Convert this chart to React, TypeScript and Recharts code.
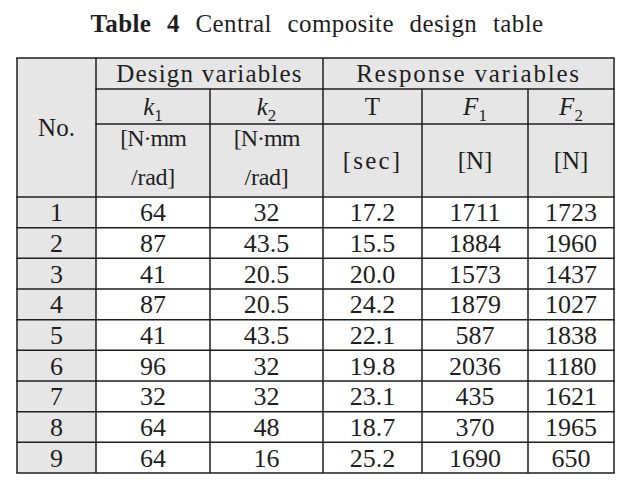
import { ScatterChart, Scatter, XAxis, YAxis, ReferenceArea, ReferenceLine } from 'recharts'

// table contents
const rowNumbers = ['1', '2', '3', '4', '5', '6', '7', '8', '9']
const k1Values = [64, 87, 41, 87, 41, 96, 32, 64, 64]
const k2Values = [32, 43.5, 20.5, 20.5, 43.5, 32, 32, 48, 16]
const tValues = [17.2, 15.5, 20.0, 24.2, 22.1, 19.8, 23.1, 18.7, 25.2]
const f1Values = [1711, 1884, 1573, 1879, 587, 2036, 435, 370, 1690]
const f2Values = [1723, 1960, 1437, 1027, 1838, 1180, 1621, 1965, 650]

const groupLabels = ['Design variables', 'Response variables']
const symbolLabels = [
    { base: 'k', sub: '1', italic: true },
    { base: 'k', sub: '2', italic: true },
    { base: 'T', sub: '', italic: false },
    { base: 'F', sub: '1', italic: true },
    { base: 'F', sub: '2', italic: true },
]
const unitLabels = [['[N·mm', '/rad]'], ['[N·mm', '/rad]'], ['[sec]'], ['[N]'], ['[N]']]

// layout (table units on the hidden axes)
const W = 634
const H = 490
const colEdges = [17, 96, 210, 323, 422, 528, 614]
const headEdges = [58, 89, 124, 197]
const bodyBottom = 473
const rowH = (bodyBottom - headEdges[3]) / rowNumbers.length

const FONT = '"Liberation Serif", "Times New Roman", serif'
const INK = '#1e1e1e'

const mid = (a: number, b: number) => (a + b) / 2

type Cell = { x: number; y: number; kind: string; text?: string; sub?: string; italic?: boolean; size?: number; ls?: number }

const cells: Cell[] = []
cells.push({ x: mid(colEdges[0], colEdges[1]), y: mid(headEdges[0], headEdges[3]), kind: 'plain', text: 'No.', size: 25 })
cells.push({ x: mid(colEdges[1], colEdges[3]), y: mid(headEdges[0], headEdges[1]), kind: 'plain', text: groupLabels[0], size: 25, ls: 1.2 })
cells.push({ x: mid(colEdges[3], colEdges[6]), y: mid(headEdges[0], headEdges[1]), kind: 'plain', text: groupLabels[1], size: 25, ls: 1.8 })
symbolLabels.forEach((s, i) => {
    cells.push({ x: mid(colEdges[i + 1], colEdges[i + 2]), y: mid(headEdges[1], headEdges[2]), kind: 'sym', text: s.base, sub: s.sub, italic: s.italic, size: 25 })
})
unitLabels.forEach((u, i) => {
    const cx = mid(colEdges[i + 1], colEdges[i + 2])
    if (u.length === 2) {
        cells.push({ x: cx, y: headEdges[2] + 14, kind: 'plain', text: u[0], size: 24, ls: -1 })
        cells.push({ x: cx, y: headEdges[3] - 20, kind: 'plain', text: u[1], size: 24, ls: -0.3 })
    } else {
        cells.push({ x: cx, y: mid(headEdges[2], headEdges[3]), kind: 'plain', text: u[0], size: 25, ls: u[0] === '[sec]' ? 2.2 : 0 })
    }
})
const columns = [
    rowNumbers,
    k1Values.map(v => String(v)),
    k2Values.map(v => String(v)),
    tValues.map(v => v.toFixed(1)),
    f1Values.map(v => String(v)),
    f2Values.map(v => String(v)),
]
columns.forEach((col, c) => {
    col.forEach((txt, r) => {
        cells.push({ x: mid(colEdges[c], colEdges[c + 1]), y: headEdges[3] + rowH * (r + 0.5), kind: 'plain', text: txt, size: 26 })
    })
})

const renderCell = (props: any) => {
    const { cx, cy, payload } = props
    const size = payload.size || 25
    const base = cy + size * 0.34
    if (payload.kind === 'sym') {
        return (
            <text x={cx} y={base} textAnchor="middle" fontFamily={FONT} fontSize={size} fill={INK}>
                <tspan fontStyle={payload.italic ? 'italic' : 'normal'}>{payload.text}</tspan>
                {payload.sub ? <tspan fontSize={17} dy={6}>{payload.sub}</tspan> : null}
            </text>
        )
    }
    return (
        <text x={cx} y={base} textAnchor="middle" fontFamily={FONT} fontSize={size} fill={INK} letterSpacing={payload.ls || 0}>
            {payload.text}
        </text>
    )
}

// grid segments
const hLines: Array<[number, number, number]> = [
    [headEdges[0], colEdges[0], colEdges[6]],
    [headEdges[1], colEdges[1], colEdges[6]],
    [headEdges[2], colEdges[1], colEdges[6]],
    [headEdges[3], colEdges[0], colEdges[6]],
    ...rowNumbers.map((_, r) => [headEdges[3] + rowH * (r + 1), colEdges[0], colEdges[6]] as [number, number, number]),
]
const vLines: Array<[number, number, number]> = [
    [colEdges[0], headEdges[0], bodyBottom],
    [colEdges[1], headEdges[0], bodyBottom],
    [colEdges[2], headEdges[1], bodyBottom],
    [colEdges[3], headEdges[0], bodyBottom],
    [colEdges[4], headEdges[1], bodyBottom],
    [colEdges[5], headEdges[1], bodyBottom],
    [colEdges[6], headEdges[0], bodyBottom],
]

export default function App() {
    return (
        <div style={{ position: 'absolute', left: 0, top: 0, width: W, height: H, background: '#fff' }}>
            <div
                style={{
                    position: 'absolute',
                    left: 0,
                    top: 11,
                    width: W,
                    textAlign: 'center',
                    fontFamily: FONT,
                    fontSize: 25,
                    lineHeight: '25px',
                    color: INK,
                    wordSpacing: 9,
                    letterSpacing: 0.4,
                    whiteSpace: 'nowrap',
                }}
            >
                <b>Table 4</b> Central composite design table
            </div>
            <ScatterChart width={W} height={H} margin={{ top: 0, right: 0, bottom: 0, left: 0 }}>
                <XAxis type="number" dataKey="x" domain={[0, W]} hide />
                <YAxis type="number" dataKey="y" domain={[0, H]} reversed hide />
                <ReferenceArea x1={colEdges[0]} x2={colEdges[6]} y1={headEdges[0]} y2={headEdges[3]} fill="#e6e6e6" fillOpacity={1} stroke="none" ifOverflow="visible" />
                <ReferenceArea x1={colEdges[0]} x2={colEdges[1]} y1={headEdges[3]} y2={bodyBottom} fill="#e6e6e6" fillOpacity={1} stroke="none" ifOverflow="visible" />
                {hLines.map(([y, x1, x2], i) => (
                    <ReferenceLine key={'h' + i} segment={[{ x: x1 - 0.75, y }, { x: x2 + 0.75, y }]} stroke={INK} strokeWidth={1.5} ifOverflow="visible" />
                ))}
                {vLines.map(([x, y1, y2], i) => (
                    <ReferenceLine key={'v' + i} segment={[{ x, y: y1 }, { x, y: y2 }]} stroke={INK} strokeWidth={1.5} ifOverflow="visible" />
                ))}
                <Scatter data={cells} shape={renderCell} isAnimationActive={false} />
            </ScatterChart>
        </div>
    )
}
